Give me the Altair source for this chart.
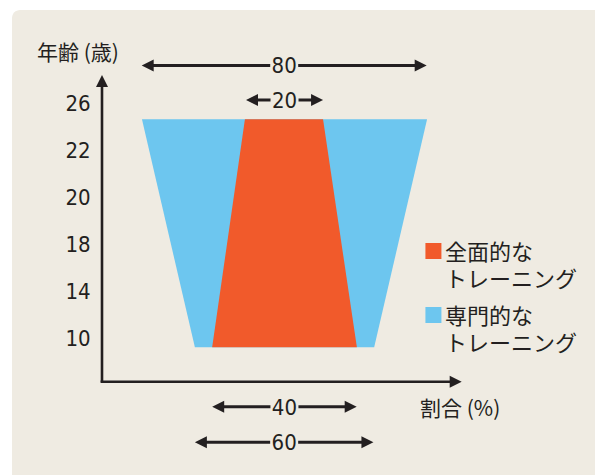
import altair as alt
import pandas as pd

# ---------------- data ----------------
# y axis: ages shown as evenly spaced ordinal slots
age_labels = ["10", "14", "18", "20", "22", "26"]
age_slots = [0, 1, 2, 3, 4, 5]

# trapezoids (x in % units, y in age-slot units): top row, bottom row
band_levels = [4.653, -0.198]
special_left = [11.1, 25.8]
special_right = [90.3, 75.6]
general_left = [39.7, 30.6]
general_right = [61.4, 70.8]

# width annotations
dim_labels = ["80", "20", "40", "60"]
dim_left = [11.03, 40.0, 30.6, 25.8]
dim_right = [90.19, 61.4, 70.75, 75.4]
dim_level = [5.798, 5.064, -1.462, -2.219]

# axes
x_axis_end = 99.92
y_axis_base = -0.93
y_axis_top = 5.596

# legend
legend_lines = [["全面的な", "トレーニング"], ["専門的な", "トレーニング"]]
legend_colors = ["#f15a2b", "#6dc6ef"]
legend_levels = [1.851, 0.489]
legend_line_gap = 0.574
legend_x = 92.06

y_title = "年齢 (歳)"
x_title = "割合 (%)"

INK = "#231f20"
BG = "#efebe2"
NUM_FONT = "DejaVu Sans Condensed, Roboto, sans-serif"
JP_FONT = "Noto Sans CJK JP"

# scale: 3.6 px per % unit, 47 px per age slot
X_DOM = [-25, 136.944]
Y_DOM = [-2.9149, 6.9787]
HEAD_U = 6 / 3.6       # arrowhead half-length in x units
HEAD_S = 6 / 47        # arrowhead half-length in y units
GAP_U = 14 / 3.6       # half gap around the number


def X(field):
    return alt.X(field, type="quantitative", scale=alt.Scale(domain=X_DOM, nice=False, zero=False), axis=None)


def Y(field):
    return alt.Y(field, type="quantitative", scale=alt.Scale(domain=Y_DOM, nice=False, zero=False), axis=None)


bg = alt.Chart(pd.DataFrame({"a": [0]})).mark_rect(color=BG, cornerRadius=8).encode(
    x=alt.value(0), x2=alt.value(620), y=alt.value(0), y2=alt.value(500)
)

special = pd.DataFrame({"s": band_levels, "l": special_left, "r": special_right})
general = pd.DataFrame({"s": band_levels, "l": general_left, "r": general_right})

special_area = alt.Chart(special).mark_area(orient="horizontal", color=legend_colors[1], opacity=1).encode(
    y=Y("s"), x=X("l"), x2="r"
)
general_area = alt.Chart(general).mark_area(orient="horizontal", color=legend_colors[0], opacity=1).encode(
    y=Y("s"), x=X("l"), x2="r"
)

# y tick labels
ages = pd.DataFrame({"s": age_slots, "t": age_labels, "u": [-3.14] * len(age_labels)})
age_text = alt.Chart(ages).mark_text(
    align="right", baseline="middle", font=NUM_FONT, fontSize=22, color=INK, dy=1
).encode(x=X("u"), y=Y("s"), text="t:N")

# axes
yaxis = pd.DataFrame({"u": [0], "s1": [y_axis_base], "s2": [y_axis_top - HEAD_S]})
xaxis = pd.DataFrame({"u1": [-0.4], "u2": [x_axis_end - HEAD_U], "s": [y_axis_base]})
yaxis_line = alt.Chart(yaxis).mark_rule(color=INK, strokeWidth=2.6).encode(x=X("u"), y=Y("s1"), y2="s2")
xaxis_line = alt.Chart(xaxis).mark_rule(color=INK, strokeWidth=2.6).encode(x=X("u1"), x2="u2", y=Y("s"))
yaxis_head = alt.Chart(yaxis).mark_point(
    shape="M0,-1L1,1L-1,1Z", filled=True, size=144, color=INK, opacity=1, strokeWidth=0
).encode(x=X("u"), y=Y("s2"))
xaxis_head = alt.Chart(xaxis).mark_point(
    shape="M1,0L-1,-1L-1,1Z", filled=True, size=144, color=INK, opacity=1, strokeWidth=0
).encode(x=X("u2"), y=Y("s"))

# dimension arrows
dims = pd.DataFrame({"t": dim_labels, "l": dim_left, "r": dim_right, "s": dim_level})
dims["c"] = (dims["l"] + dims["r"]) / 2
dims["lh"] = dims["l"] + HEAD_U
dims["rh"] = dims["r"] - HEAD_U
dims["g1"] = dims["c"] - GAP_U
dims["g2"] = dims["c"] + GAP_U

dim_left_line = alt.Chart(dims).mark_rule(color=INK, strokeWidth=3).encode(x=X("lh"), x2="g1", y=Y("s"))
dim_right_line = alt.Chart(dims).mark_rule(color=INK, strokeWidth=3).encode(x=X("g2"), x2="rh", y=Y("s"))
dim_left_head = alt.Chart(dims).mark_point(
    shape="M-1,0L1,-1L1,1Z", filled=True, size=144, color=INK, opacity=1, strokeWidth=0
).encode(x=X("lh"), y=Y("s"))
dim_right_head = alt.Chart(dims).mark_point(
    shape="M1,0L-1,-1L-1,1Z", filled=True, size=144, color=INK, opacity=1, strokeWidth=0
).encode(x=X("rh"), y=Y("s"))
dim_text = alt.Chart(dims).mark_text(
    align="center", baseline="middle", font=NUM_FONT, fontSize=22, color=INK, dy=1
).encode(x=X("c"), y=Y("s"), text="t:N")

# legend
sq = pd.DataFrame({"u": [legend_x] * 2, "s": legend_levels, "col": legend_colors})
legend_sq = alt.Chart(sq).mark_point(shape="square", filled=True, size=256, opacity=1, strokeWidth=0).encode(
    x=X("u"), y=Y("s"), color=alt.Color("col:N", scale=None)
)
rows = []
for lines, lv in zip(legend_lines, legend_levels):
    for i, line in enumerate(lines):
        rows.append({"t": line, "s": lv - i * legend_line_gap, "u": legend_x + 3.22})
leg_txt = pd.DataFrame(rows)
legend_text = alt.Chart(leg_txt).mark_text(
    align="left", baseline="middle", font=JP_FONT, fontSize=22, color=INK, dy=2
).encode(x=X("u"), y=Y("s"), text="t:N")

# axis titles
titles = pd.DataFrame({"t": [y_title, x_title], "u": [-18.06, 88.33], "s": [6.085, -1.489]})
title_text = alt.Chart(titles).mark_text(
    align="left", baseline="middle", font=JP_FONT, fontSize=21, color=INK, dy=2
).encode(x=X("u"), y=Y("s"), text="t:N")

chart = alt.layer(
    bg, special_area, general_area, age_text,
    yaxis_line, xaxis_line, yaxis_head, xaxis_head,
    dim_left_line, dim_right_line, dim_left_head, dim_right_head, dim_text,
    legend_sq, legend_text, title_text,
).properties(
    width=583, height=465,
    autosize=alt.AutoSizeParams(type="none"),
    padding={"left": 12, "top": 10, "right": 0, "bottom": 0},
    background="white",
).configure_view(stroke=None)

chart.save("out.html", embed_options={"renderer": "svg", "actions": False})
